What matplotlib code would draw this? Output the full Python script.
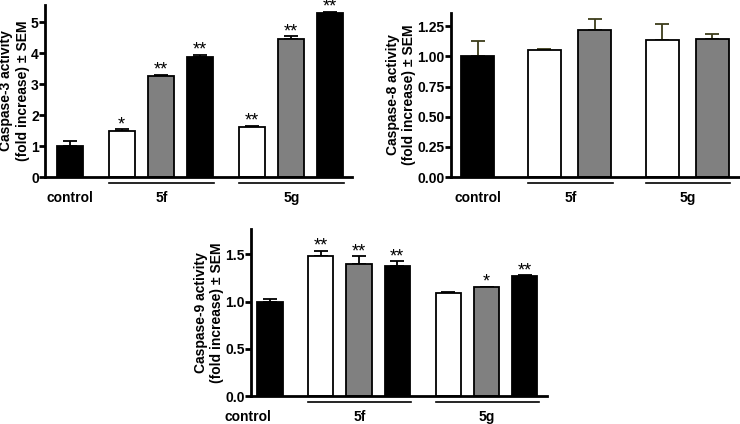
import numpy as np
import matplotlib
matplotlib.use("Agg")
import matplotlib.pyplot as plt
import matplotlib.transforms as mtransforms

plt.rcParams['font.family'] = ['Liberation Sans', 'DejaVu Sans']
plt.rcParams['font.weight'] = 'bold'

# bar positions: control, then 5f group, then 5g group
pos3 = [0, 1.33, 2.33, 3.33, 4.67, 5.67, 6.67]
pos8 = [0, 1.33, 2.33, 3.67, 4.67]

colors3 = ['black', 'white', 'gray', 'black', 'white', 'gray', 'black']
colors8 = ['black', 'white', 'gray', 'white', 'gray']

# Caspase-3
casp3 = [1.0, 1.50, 3.25, 3.88, 1.62, 4.46, 5.30]
casp3_err = [0.15, 0.05, 0.05, 0.07, 0.04, 0.08, 0.04]
casp3_stars = ['', '*', '**', '**', '**', '**', '**']

# Caspase-8
casp8 = [1.0, 1.05, 1.22, 1.135, 1.145]
casp8_err = [0.13, 0.015, 0.09, 0.13, 0.04]

# Caspase-9
casp9 = [1.0, 1.48, 1.40, 1.38, 1.09, 1.15, 1.27]
casp9_err = [0.03, 0.06, 0.08, 0.05, 0.01, 0.01, 0.01]
casp9_stars = ['', '**', '**', '**', '', '*', '**']

groups = ['5f', '5g']


def panel(ax, pos, vals, errs, cols, stars, ylab, yticks, ylim, xlim, width,
          groups_idx, ecolor='black', ctrl_x=0):
    ax.bar(pos, vals, width=width, color=cols, edgecolor='black', linewidth=1.3, zorder=2)
    ax.errorbar(pos, vals, yerr=[np.zeros(len(errs)), errs], fmt='none',
                ecolor=ecolor, elinewidth=1.3, capsize=5, capthick=1.3, zorder=1)
    if stars:
        for x, v, e, s in zip(pos, vals, errs, stars):
            if s:
                ax.annotate(s, (x, v + e), xytext=(0, -3), textcoords='offset points',
                            ha='center', va='bottom', fontsize=13, fontweight='normal',
                            annotation_clip=False)
    ax.set_xlim(*xlim)
    ax.set_ylim(*ylim)
    ax.set_yticks(yticks)
    ax.set_ylabel(ylab, fontsize=10, fontweight='bold', labelpad=1)
    ax.spines['top'].set_visible(False)
    ax.spines['right'].set_visible(False)
    ax.spines['left'].set_linewidth(2)
    ax.spines['bottom'].set_linewidth(2)
    ax.tick_params(axis='y', width=2, length=4, labelsize=10, pad=0.5)
    ax.tick_params(axis='x', bottom=False, labelbottom=False)
    trans = mtransforms.blended_transform_factory(ax.transData, ax.transAxes)
    h = ax.get_position().height * 424
    ax.text(ctrl_x, -21 / h, 'control', transform=trans, ha='center', va='center',
            fontsize=10, fontweight='bold')
    for name, (a, b) in zip(groups, groups_idx):
        x0 = pos[a] - width / 2
        x1 = pos[b] + width / 2 + 0.03
        ax.plot([x0, x1], [-6 / h, -6 / h], transform=trans, color='black',
                lw=1.2, clip_on=False)
        ax.text((x0 + x1) / 2, -21 / h, name, transform=trans, ha='center',
                va='center', fontsize=10, fontweight='bold')


fig = plt.figure(figsize=(7.4, 4.24), dpi=100)

ax1 = fig.add_axes([45 / 740, 1 - 177 / 424, 307 / 740, 172 / 424])
panel(ax1, pos3, casp3, casp3_err, colors3, casp3_stars,
      'Caspase-3 activity\n(fold increase) ± SEM',
      [0, 1, 2, 3, 4, 5], (0, 5.55), (-0.64, 7.24), 0.67,
      [(1, 3), (4, 6)])

ax2 = fig.add_axes([451 / 740, 1 - 177 / 424, 289 / 740, 164 / 424])
panel(ax2, pos8, casp8, casp8_err, colors8, None,
      'Caspase-8 activity\n(fold increase) ± SEM',
      [0, 0.25, 0.5, 0.75, 1.0, 1.25], (0, 1.36), (-0.53, 5.22), 0.66,
      [(1, 2), (3, 4)], ecolor='#3d3d1a')
ax2.yaxis.set_major_formatter(matplotlib.ticker.FormatStrFormatter('%.2f'))

ax3 = fig.add_axes([251 / 740, 1 - 396 / 424, 296 / 740, 167 / 424])
panel(ax3, pos3, casp9, casp9_err, colors3, casp9_stars,
      'Caspase-9 activity\n(fold increase) ± SEM',
      [0, 0.5, 1.0, 1.5], (0, 1.77), (-0.5, 7.25), 0.66,
      [(1, 3), (4, 6)], ctrl_x=-0.57)
ax3.yaxis.set_major_formatter(matplotlib.ticker.FormatStrFormatter('%.1f'))

fig.savefig('out.png', dpi=100)
